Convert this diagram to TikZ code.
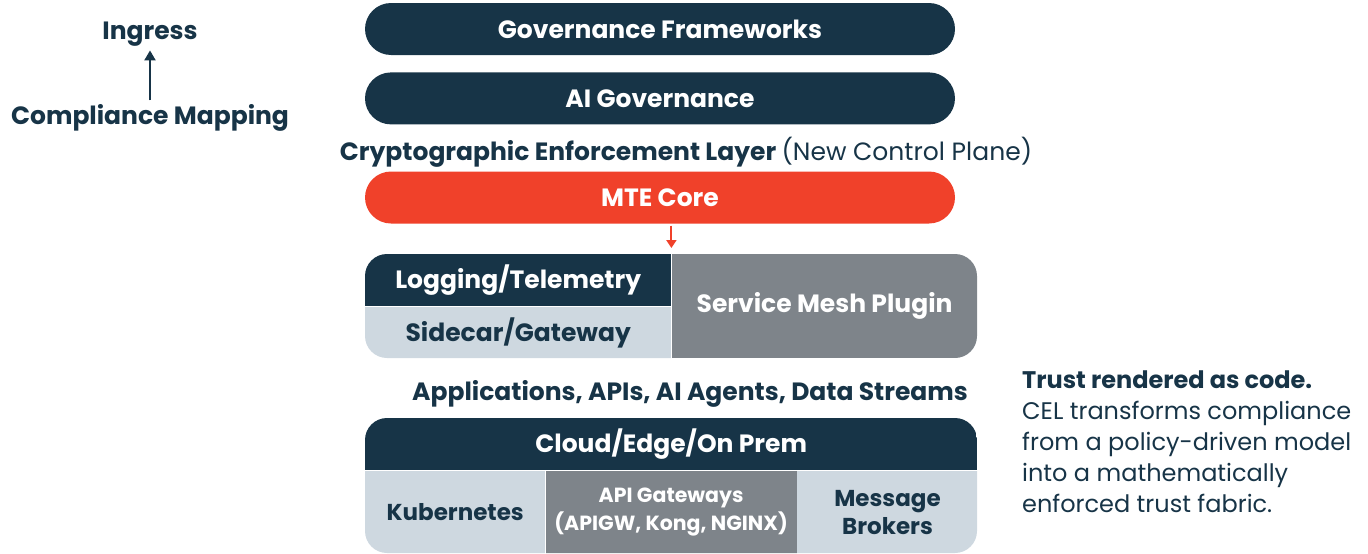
\documentclass[tikz,border=0pt]{standalone}
\usepackage{fontspec}
\setmainfont{Poppins}
\usetikzlibrary{positioning,arrows.meta}

\definecolor{navy}{HTML}{173447}
\definecolor{mtered}{HTML}{F0412A}
\definecolor{slate}{HTML}{7E848A}
\definecolor{mist}{HTML}{CED8E0}

\begin{document}
\begin{tikzpicture}[x=1pt,y=-1pt,
  bar/.style={fill=navy,text=white,rounded corners=26pt,minimum width=590pt,
    minimum height=52pt,inner sep=0pt,font=\fontsize{25}{28}\selectfont\bfseries},
  cell/.style={minimum height=52pt,inner sep=0pt,font=\fontsize{25}{28}\selectfont\bfseries},
  dark/.style={cell,fill=navy,text=white},
  light/.style={cell,fill=mist,text=navy},
  grey/.style={cell,fill=slate,text=white},
  heading/.style={text=navy,inner sep=0pt,font=\fontsize{25}{28}\selectfont\bfseries}]
\useasboundingbox (0,0) rectangle (1368,554);

% governance stack
\node[bar] (frameworks) at (660,29) {Governance Frameworks};
\node[bar] (aigov) [below=17pt of frameworks] {AI Governance};
\node[heading] (cel) at (686,152) {Cryptographic Enforcement Layer \mdseries(New Control Plane)};
\node[bar,fill=mtered] (mte) at (660,197.5) {MTE Core};

% enforcement points
\begin{scope}
  \clip[rounded corners=22pt] (365,254) rectangle (977,358);
  \node[dark,minimum width=306pt,anchor=north west] (logging) at (365,254) {Logging/Telemetry};
  \node[light,minimum width=306pt,anchor=north] (sidecar) at (logging.south) {Sidecar/Gateway};
  \node[grey,minimum width=306pt,minimum height=104pt,anchor=north west] (mesh) at (logging.north east) {Service Mesh Plugin};
\end{scope}

\node[heading] (apps) at (690,394) {Applications, APIs, AI Agents, Data Streams};

% runtime platforms
\begin{scope}
  \clip[rounded corners=22pt] (365,418) rectangle (977,553);
  \node[dark,minimum width=612pt,anchor=north west] (cloud) at (365,418) {Cloud/Edge/On Prem};
  \node[light,minimum width=180pt,minimum height=83pt,anchor=north west,
    font=\fontsize{23}{28}\selectfont\bfseries] (k8s) at (cloud.south west) {Kubernetes};
  \node[grey,minimum width=251pt,minimum height=83pt,anchor=north west,align=center,
    font=\fontsize{20.5}{28}\selectfont\bfseries] (apigw) at (k8s.north east) {API Gateways\\(APIGW, Kong, NGINX)};
  \node[light,minimum width=181pt,minimum height=83pt,anchor=north west,align=center,
    font=\fontsize{23}{28}\selectfont\bfseries] (brokers) at (apigw.north east) {Message\\Brokers};
\end{scope}

% left legend
\node[heading] (ingress) at (150,34) {Ingress};
\node[heading] (compliance) at (150,118) {Compliance Mapping};
\draw[navy,line width=2pt,-{Triangle[width=11pt,length=10pt]}] (compliance.north) ++(0,-4) -- ([yshift=-4pt]ingress.south);

\draw[mtered,line width=2pt,-{Triangle[width=10pt,length=8pt]},shorten <=2pt,shorten >=6pt]
  (mte.south -| logging.north east) -- (logging.north east);

% side note
\node[text=navy,anchor=north west,align=left,inner sep=0pt,
  font=\fontsize{24}{31}\selectfont] (note) at (1022,371)
  {\bfseries Trust rendered as code.\\CEL transforms compliance\\from a policy-driven model\\into a mathematically\\enforced trust fabric.};
\end{tikzpicture}
\end{document}
